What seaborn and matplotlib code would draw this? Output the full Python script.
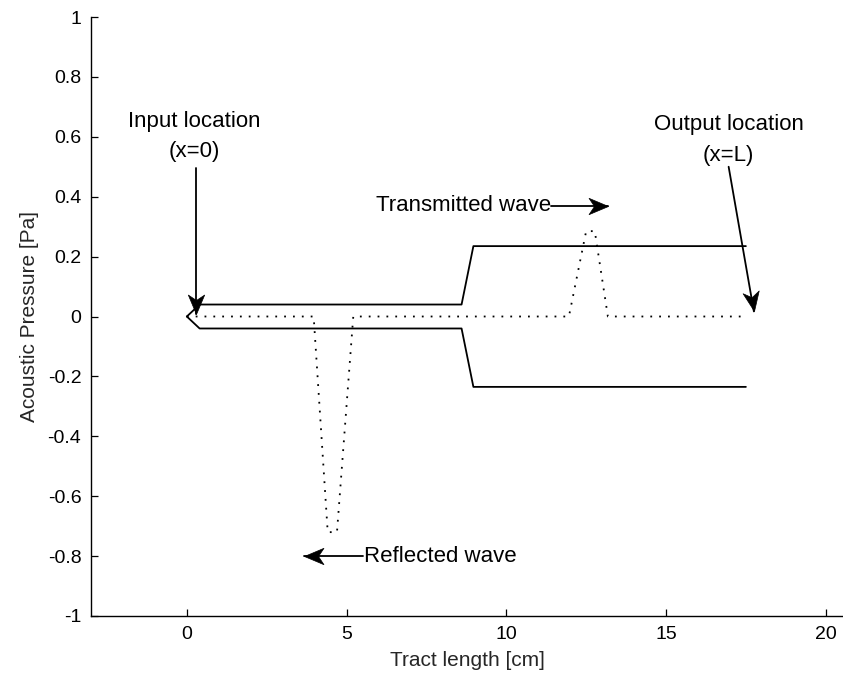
import numpy as np
import pandas as pd
import seaborn as sns
import matplotlib.pyplot as plt
from matplotlib.markers import MarkerStyle
from matplotlib.path import Path
from matplotlib.transforms import Affine2D

# Vocal tract walls: narrow back cavity, then a wide front cavity [cm], [Pa]
wall_x = [0.0, 0.4, 8.6, 8.97, 17.5]
upper_wall = [0.0, 0.04, 0.04, 0.235, 0.235]
lower_wall = [0.0, -0.04, -0.04, -0.235, -0.235]

# Pressure snapshot along the tract: reflected pulse and transmitted pulse
wave_x = [0.0, 3.97, 4.41, 4.70, 5.21, 11.96, 12.5, 12.77, 13.18, 17.5]
wave_p = [0.0, 0.0, -0.72, -0.72, 0.0, 0.0, 0.285, 0.285, 0.0, 0.0]

x_ticks = [0, 5, 10, 15, 20]
y_ticks = [-1, -0.8, -0.6, -0.4, -0.2, 0, 0.2, 0.4, 0.6, 0.8, 1]

sns.set_style("ticks")
plt.rcParams["font.family"] = ["Liberation Sans", "DejaVu Sans"]
plt.rcParams["xtick.direction"] = "in"
plt.rcParams["ytick.direction"] = "in"

fig = plt.figure(figsize=(8.43, 6.78), dpi=100)
ax = fig.add_axes([91 / 843, 62 / 678, 752 / 843, 599 / 678])

walls = pd.DataFrame({"x": wall_x, "upper": upper_wall, "lower": lower_wall})
wave = pd.DataFrame({"x": wave_x, "p": wave_p})

sns.lineplot(data=walls, x="x", y="upper", ax=ax, color="black", lw=1.3,
             estimator=None, sort=False)
sns.lineplot(data=walls, x="x", y="lower", ax=ax, color="black", lw=1.3,
             estimator=None, sort=False)
sns.lineplot(data=wave, x="x", y="p", ax=ax, color="black", lw=1.3,
             linestyle=(0, (1, 3.9)), estimator=None, sort=False)

ax.set_xlim(-3, 20.54)
ax.set_ylim(-1, 1)
ax.set_xticks(x_ticks)
ax.set_yticks(y_ticks)
ax.set_xticklabels([f"{v:g}" for v in x_ticks])
ax.set_yticklabels([f"{v:g}" for v in y_ticks])
ax.tick_params(axis="both", length=5, width=0.9, labelsize=14, pad=7,
               colors="black")
for side in ("top", "right"):
    ax.spines[side].set_visible(False)
for side in ("left", "bottom"):
    ax.spines[side].set_linewidth(1.0)
    ax.spines[side].set_color("black")

ax.set_xlabel("Tract length [cm]", fontsize=15, labelpad=6)
ax.set_ylabel("Acoustic Pressure [Pa]", fontsize=15, labelpad=6)

# Notched arrowhead, tip at the origin, pointing along +x
head_path = Path(
    [(0, 0), (-1, 0.42), (-0.72, 0), (-1, -0.42), (0, 0)],
    [Path.MOVETO, Path.LINETO, Path.LINETO, Path.LINETO, Path.CLOSEPOLY],
)


def arrow(x0, y0, x1, y1, size=28):
    ax.plot([x0, x1], [y0, y1], color="black", lw=1.3, clip_on=False)
    p0, p1 = ax.transData.transform([(x0, y0), (x1, y1)])
    ang = np.degrees(np.arctan2(p1[1] - p0[1], p1[0] - p0[0]))
    m = MarkerStyle(head_path, transform=Affine2D().rotate_deg(ang))
    ax.plot([x1], [y1], marker=m, markersize=size, color="black",
            markeredgewidth=0.5, clip_on=False, linestyle="none")


txt = dict(fontsize=16, color="black")

ax.text(0.22, 0.65, "Input location", ha="center", va="center", **txt)
ax.text(0.22, 0.552, "(x=0)", ha="center", va="center", **txt)
arrow(0.28, 0.497, 0.28, 0.01)

ax.text(16.96, 0.641, "Output location", ha="center", va="center", **txt)
ax.text(16.96, 0.536, "(x=L)", ha="center", va="center", **txt)
arrow(16.96, 0.50, 17.75, 0.017)

ax.text(5.92, 0.37, "Transmitted wave", ha="left", va="center", **txt)
arrow(11.39, 0.37, 13.18, 0.37)

ax.text(5.54, -0.8, "Reflected wave", ha="left", va="center", **txt)
arrow(5.51, -0.8, 3.66, -0.8)

fig.savefig("out.png", dpi=100)
